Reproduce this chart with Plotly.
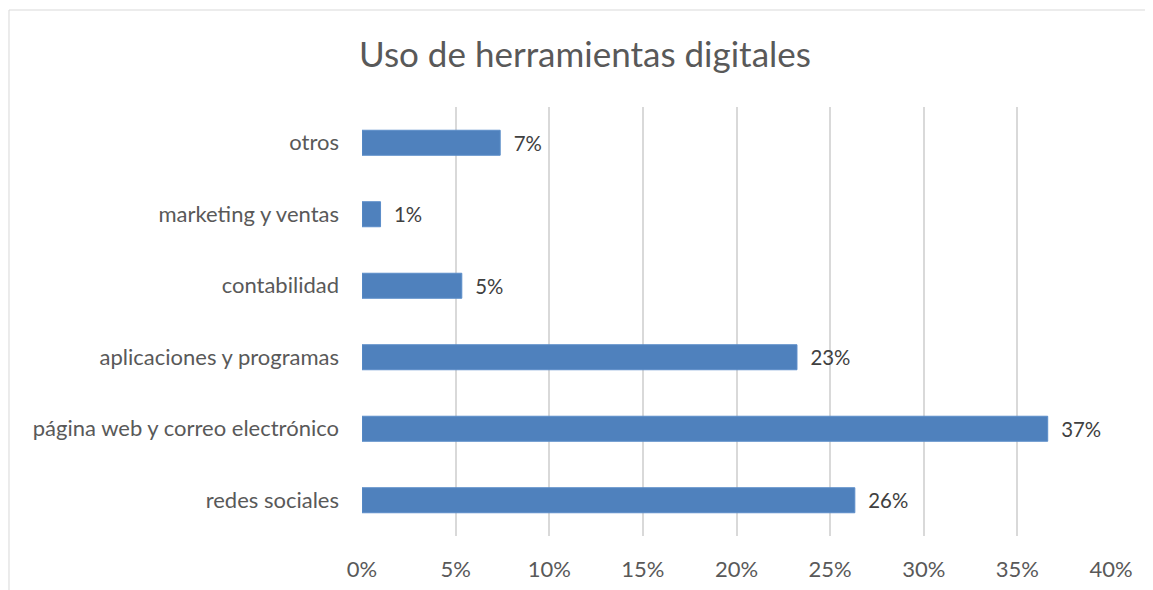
import plotly.graph_objects as go

# data (fractions)
categories = ['redes sociales', 'página web y correo electrónico', 'aplicaciones y programas',
              'contabilidad', 'marketing y ventas', 'otros']
shares = [0.2632, 0.3662, 0.2323, 0.0533, 0.0099, 0.0738]
tick_vals = [0, 0.05, 0.10, 0.15, 0.20, 0.25, 0.30, 0.35, 0.40]

fig = go.Figure(go.Bar(
    x=shares, y=categories, orientation='h',
    marker=dict(color='#4F81BD', line=dict(color='#5B8DC9', width=1)),
    texttemplate='\u00a0\u00a0%{x:.0%}', textposition='outside',
    textfont=dict(color='#404040', size=22, family='Lato'),
    cliponaxis=False,
))

# page body has an 8px margin, so margins are shifted to line up with the reference
fig.update_layout(
    width=1153, height=590,
    paper_bgcolor='white', plot_bgcolor='white',
    margin=dict(l=354, r=50, t=99, b=62),
    font=dict(family='Lato', color='#595959', size=22),
    title=dict(text='Uso de herramientas digitales', x=0.5004, xanchor='center',
               y=0.920, yanchor='middle', font=dict(size=35, color='#595959')),
    bargap=0.65, showlegend=False,
    shapes=[dict(type='rect', xref='paper', yref='paper', x0=-0.4713, x1=2, y0=-1, y1=1.2261,
                 line=dict(color='#D9D9D9', width=1), layer='below')],
)
fig.update_xaxes(range=[0, 0.40], tickvals=tick_vals, tickformat='.0%',
                 showgrid=True, gridcolor='#D9D9D9', gridwidth=1.5, zeroline=False,
                 ticks='', ticklabelstandoff=18, tickfont=dict(size=22, color='#595959'))
fig.update_yaxes(showgrid=False, zeroline=False, ticks='', ticklabelstandoff=22,
                 tickfont=dict(size=22, color='#595959'))

fig.write_html('out.html')
